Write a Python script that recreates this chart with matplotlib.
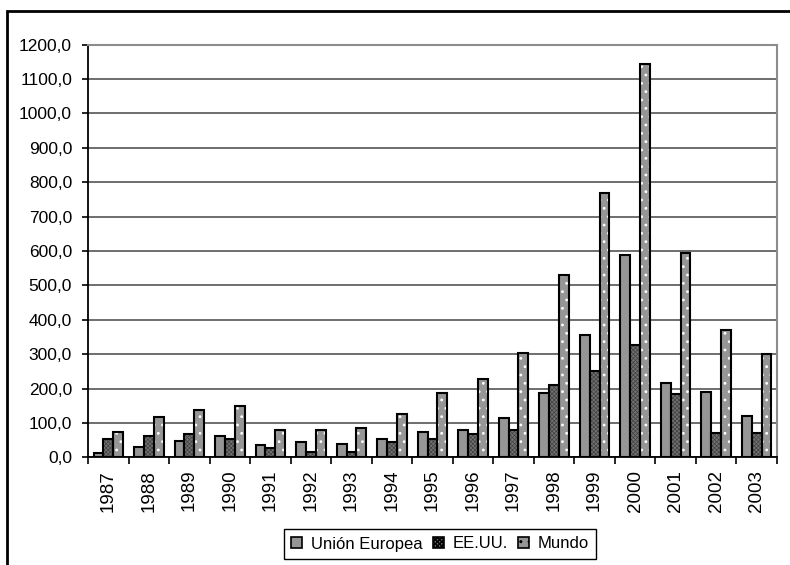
import numpy as np
import matplotlib
matplotlib.use("Agg")
import matplotlib.pyplot as plt
from matplotlib.patches import Rectangle
from matplotlib.ticker import FuncFormatter, FixedLocator

plt.rcParams['font.family'] = ['Liberation Sans', 'DejaVu Sans']

years = ['1987', '1988', '1989', '1990', '1991', '1992', '1993', '1994', '1995',
         '1996', '1997', '1998', '1999', '2000', '2001', '2002', '2003']
union_europea = [13, 31, 48, 62, 36, 45, 40, 52, 75, 80, 115, 187, 357, 587, 215, 191, 120]
eeuu = [52, 62, 67, 52, 26, 16, 16, 45, 52, 68, 80, 209, 250, 327, 184, 72, 72]
mundo = [75, 117, 139, 150, 80, 80, 85, 125, 187, 228, 303, 531, 768, 1143, 595, 371, 299]
series_names = ['Unión Europea', 'EE.UU.', 'Mundo']

fig = plt.figure(figsize=(7.9, 5.65), dpi=100)
ax = fig.add_axes([88 / 790, 107.7 / 565, (777 - 88) / 790, (457.3 - 44.7) / 565])

x = np.arange(len(years))
w = 0.242
offsets = [-w, 0, w]
# fill colour, pattern, pattern colour, pattern width for each series
styles = [('#969696', None, 'black', 0.8),
          ('#727272', 'xxxxxxxx', '#404040', 0.5),
          ('#969696', '..', 'white', 0.8)]

handles = []
for vals, off, (fc, hatch, hc, hw), name in zip([union_europea, eeuu, mundo], offsets, styles, series_names):
    with plt.rc_context({'hatch.color': hc, 'hatch.linewidth': hw}):
        ax.bar(x + off, vals, w, color=fc, hatch=hatch, linewidth=0, zorder=3)
        ax.bar(x + off, vals, w, facecolor='none', edgecolor='black', linewidth=1.5, zorder=4)
        proxy = Rectangle((0, 0), 1, 1, facecolor=fc, hatch=hatch, edgecolor='black', linewidth=1.2)
    handles.append(proxy)

ax.set_xlim(-0.5, len(years) - 0.5)
ax.set_ylim(0, 1200)
ax.yaxis.set_major_locator(FixedLocator(np.arange(0, 1201, 100)))
ax.yaxis.set_major_formatter(FuncFormatter(lambda v, p: f"{v:.1f}".replace('.', ',')))
ax.grid(axis='y', color='#555555', linewidth=1.2, zorder=1)
ax.set_axisbelow(True)

# category ticks sit between the groups, labels in the middle
ax.set_xticks(np.arange(-0.5, len(years)), minor=False)
ax.set_xticklabels([])
ax.set_xticks(x, minor=True)
ax.set_xticklabels(years, minor=True, rotation=90, fontsize=13.5,
                   family=['Liberation Sans Narrow', 'Liberation Sans'])
ax.tick_params(axis='x', which='major', direction='out', length=5, width=1.2, color='black')
ax.tick_params(axis='x', which='minor', length=0, pad=9)
ax.tick_params(axis='y', direction='out', length=4.5, width=1.2, pad=7, labelsize=12.5)

for side in ['left', 'bottom']:
    ax.spines[side].set_color('black')
    ax.spines[side].set_linewidth(1.3)
for side in ['top', 'right']:
    ax.spines[side].set_color('#8c8c8c')
    ax.spines[side].set_linewidth(1.5)

fig.legend(handles, series_names, loc='center', bbox_to_anchor=(440 / 790, 1 - 544 / 565),
           ncol=3, fontsize=12, frameon=True, fancybox=False, edgecolor='black',
           handlelength=0.65, handleheight=0.65, handletextpad=0.5, columnspacing=0.65,
           borderpad=0.45, framealpha=1)
fig.legends[0].get_frame().set_linewidth(1.0)

# outer chart frame
fig.add_artist(Rectangle((7 / 790, -0.5), 2, 0.5 + 1 - 11 / 565, transform=fig.transFigure,
                         facecolor='none', edgecolor='black', linewidth=2))

fig.savefig('out.png', dpi=100)
